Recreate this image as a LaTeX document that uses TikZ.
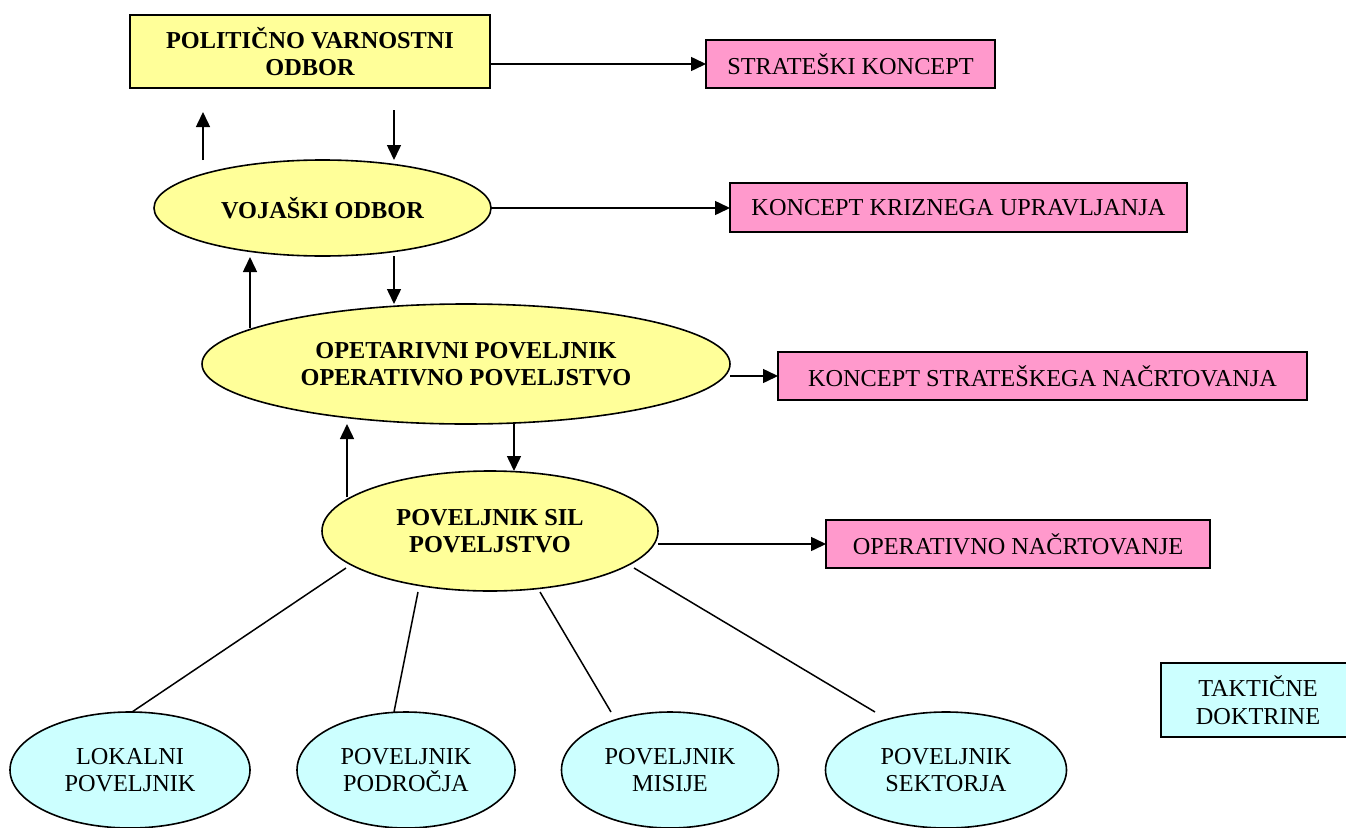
\documentclass[tikz,border=0pt]{standalone}
\usepackage{fontspec}
\setmainfont{Liberation Serif}
\usetikzlibrary{arrows.meta,shapes.geometric}
\definecolor{yel}{HTML}{FFFF99}
\definecolor{pnk}{HTML}{FF99CC}
\definecolor{cyn}{HTML}{CCFFFF}
\tikzset{
  base/.style={draw=black, line width=1.6pt, outer sep=0pt, inner sep=2pt, align=center,
    font=\fontsize{24.3}{27.5}\selectfont},
  ybox/.style={base, rectangle, fill=yel, font=\fontsize{24.3}{27.5}\selectfont\bfseries},
  yell/.style={base, ellipse, fill=yel, font=\fontsize{24.3}{27.5}\selectfont\bfseries},
  pbox/.style={base, rectangle, fill=pnk, minimum height=48pt},
  cell/.style={base, ellipse, fill=cyn, minimum height=116pt},
  cbox/.style={base, rectangle, fill=cyn},
  arr/.style={line width=1.5pt, -{Triangle[length=15pt,width=14pt]}},
  lin/.style={line width=1.5pt},
}
\begin{document}
\begin{tikzpicture}[x=1pt,y=-1pt]
\useasboundingbox (0,0) rectangle (1346,827);
% nodes
\node[ybox, minimum width=360pt, minimum height=73pt] (pvo) at (310,51.5) {POLITIČNO VARNOSTNI\\ODBOR};
\node[pbox, minimum width=289pt] (sk) at (850.5,64) {STRATEŠKI KONCEPT};
\node[yell, minimum width=337pt, minimum height=96pt] (vo) at (322.5,208) {VOJAŠKI ODBOR};
\node[pbox, minimum width=457pt, minimum height=49pt] (kku) at (958.5,207.5) {KONCEPT KRIZNEGA UPRAVLJANJA};
\node[yell, minimum width=528pt, minimum height=120pt] (op) at (466,364) {OPETARIVNI POVELJNIK\\OPERATIVNO POVELJSTVO};
\node[pbox, minimum width=529pt] (ksn) at (1042.5,376) {KONCEPT STRATEŠKEGA NAČRTOVANJA};
\node[yell, minimum width=336pt, minimum height=120pt] (sil) at (490,531) {POVELJNIK SIL\\POVELJSTVO};
\node[pbox, minimum width=384pt] (on) at (1018,544) {OPERATIVNO NAČRTOVANJE};
\node[cell, minimum width=240pt] (lok) at (130,770) {LOKALNI\\POVELJNIK};
\node[cell, minimum width=218pt] (pod) at (406,770) {POVELJNIK\\PODROČJA};
\node[cell, minimum width=217pt] (mis) at (670,770) {POVELJNIK\\MISIJE};
\node[cell, minimum width=241pt] (sek) at (946,770) {POVELJNIK\\SEKTORJA};
\node[cbox, minimum width=194pt, minimum height=74pt] (tak) at (1258,700) {TAKTIČNE\\DOKTRINE};
% horizontal arrows
\draw[arr] (pvo.east |- sk.west) -- (sk.west);
\draw[arr] (vo.east) -- (vo.east -| kku.west);
\draw[arr] (op.east |- ksn.west) -- (ksn.west);
\draw[arr] (sil.east |- on.west) -- (on.west);
% vertical arrows
\draw[arr] ([xshift=-119.5pt]vo.north) -- ([xshift=-107pt,yshift=-24pt]pvo.south);
\draw[arr] ([xshift=84pt,yshift=-22pt]pvo.south) -- ([xshift=71.5pt]vo.north);
\draw[arr] ([xshift=-216pt,yshift=36pt]op.center) -- ([xshift=-72.5pt,yshift=-1pt]vo.south);
\draw[arr] ([xshift=71.5pt]vo.south) -- ([xshift=-72pt]op.north);
\draw[arr] ([xshift=-143pt,yshift=34pt]sil.center) -- ([xshift=-119pt]op.south);
\draw[arr] ([xshift=48pt]op.south) -- ([xshift=24pt]sil.north);
% lines to subordinate commanders
\draw[lin] ([xshift=-144pt,yshift=-37pt]sil.center) -- ([xshift=2pt]lok.north);
\draw[lin] ([xshift=-72pt,yshift=-61pt]sil.center) -- ([xshift=-12pt]pod.north);
\draw[lin] ([xshift=50pt,yshift=-61pt]sil.center) -- ([xshift=-59pt]mis.north);
\draw[lin] ([xshift=144pt,yshift=-37pt]sil.center) -- ([xshift=-71pt]sek.north);
\end{tikzpicture}
\end{document}
